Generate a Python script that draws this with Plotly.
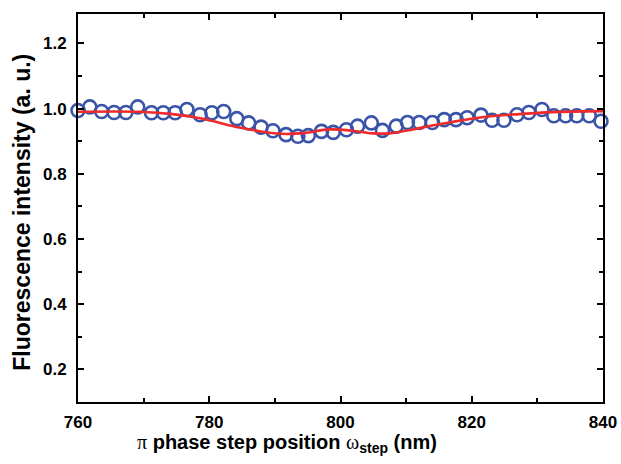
import plotly.graph_objects as go

# measured data (open circles)
x_data = [760.0, 761.8, 763.6, 765.5, 767.3, 769.1, 771.2, 773.0, 774.8, 776.6,
          778.6, 780.4, 782.2, 784.2, 786.0, 787.9, 789.7, 791.7, 793.5, 795.1,
          797.1, 798.9, 800.9, 802.6, 804.7, 806.4, 808.5, 810.2, 812.0, 814.0,
          815.8, 817.6, 819.3, 821.4, 823.1, 824.9, 826.9, 828.7, 830.7, 832.5,
          834.3, 836.0, 837.9, 839.7]
y_data = [0.994, 1.005, 0.991, 0.988, 0.988, 1.005, 0.987, 0.987, 0.987, 0.997,
          0.981, 0.987, 0.991, 0.969, 0.956, 0.943, 0.932, 0.920, 0.915, 0.917,
          0.930, 0.927, 0.935, 0.946, 0.956, 0.933, 0.946, 0.957, 0.957, 0.957,
          0.966, 0.966, 0.972, 0.980, 0.964, 0.964, 0.981, 0.988, 0.997, 0.978,
          0.978, 0.978, 0.978, 0.961]

# fitted curve (red)
x_fit = [760.0, 769.4, 774.4, 778.6, 784.6, 788.1, 791.8, 794.8, 798.3, 801.8,
         804.9, 807.5, 811.0, 813.5, 817.0, 822.2, 827.2, 832.2, 840.0]
y_fit = [0.990, 0.990, 0.983, 0.970, 0.942, 0.929, 0.922, 0.926, 0.936, 0.932,
         0.924, 0.924, 0.936, 0.946, 0.959, 0.975, 0.983, 0.989, 0.992]

x_ticks = [760, 780, 800, 820, 840]
y_ticks = [0.2, 0.4, 0.6, 0.8, 1.0, 1.2]

x_title = ("<b><span style='font-family:Liberation Serif;font-weight:normal'>π</span> phase step position "
           "<span style='font-family:Liberation Serif;font-weight:normal'>ω</span><sub>step</sub> (nm)</b>")
y_title = "<b>Fluorescence intensity (a. u.)</b>"

fig = go.Figure()
fig.add_trace(go.Scatter(
    x=x_data, y=y_data, mode="markers",
    marker=dict(symbol="circle-open", size=13, color="#3A55A8",
                line=dict(width=2.6, color="#3A55A8")),
    showlegend=False, cliponaxis=False))
fig.add_trace(go.Scatter(
    x=x_fit, y=y_fit, mode="lines",
    line=dict(color="#EE2A2A", width=2.6, shape="spline", smoothing=1.0),
    showlegend=False))

axis_common = dict(
    showline=True, linecolor="black", linewidth=2, mirror="ticks",
    ticks="inside", ticklen=6, tickwidth=2, tickcolor="black",
    showgrid=False, zeroline=False, automargin=False,
    tickfont=dict(family="Liberation Sans, Arial", size=17, color="black", weight="bold"),
)

fig.update_layout(
    width=621, height=464,
    margin=dict(l=78, r=18, t=14, b=62),
    paper_bgcolor="white", plot_bgcolor="white",
    font=dict(family="Liberation Sans, Arial", color="black"),
    xaxis=dict(
        range=[760, 840], tickvals=x_ticks, ticktext=[str(v) for v in x_ticks],
        minor=dict(ticks="inside", ticklen=4, tickwidth=2, tickcolor="black", dtick=10, tick0=760),
        ticklabelstandoff=4,
        **axis_common),
    yaxis=dict(
        range=[0.1, 1.29], tickvals=y_ticks, ticktext=["%.1f" % v for v in y_ticks],
        minor=dict(ticks="inside", ticklen=4, tickwidth=2, tickcolor="black", dtick=0.1, tick0=0.1),
        ticklabelstandoff=6,
        **axis_common),
    annotations=[
        dict(text=x_title, xref="paper", yref="paper", x=0.398, y=-0.107,
             xanchor="center", yanchor="middle", showarrow=False,
             font=dict(size=20, family="Liberation Sans, Arial", color="black")),
        dict(text=y_title, xref="paper", yref="paper", x=-0.107, y=0.49,
             xanchor="center", yanchor="middle", textangle=-90, showarrow=False,
             font=dict(size=23, family="Liberation Sans, Arial", color="black")),
    ],
)

fig.write_html("out.html", config={"displayModeBar": False},
               post_script="document.body.style.margin='0';document.body.style.padding='0';")
